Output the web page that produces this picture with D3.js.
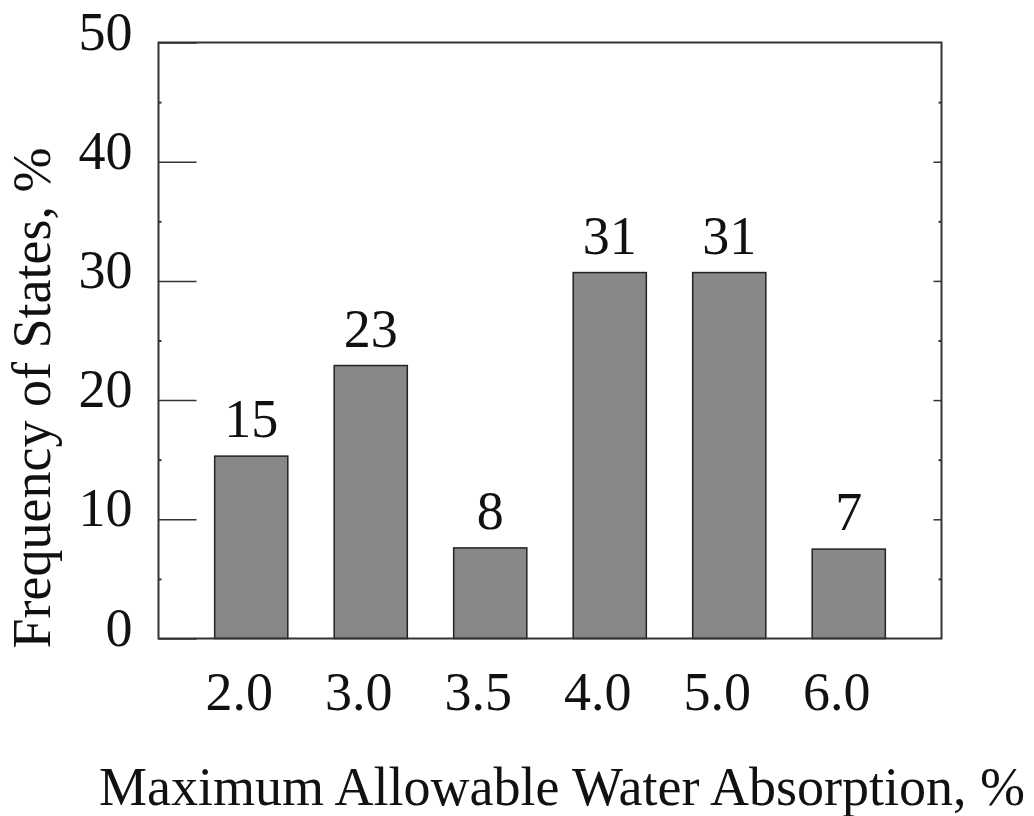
<!DOCTYPE html>
<html><head><meta charset="utf-8">
<script src="https://cdn.jsdelivr.net/npm/d3@7"></script>
<style>body{margin:0;background:#fff}text{font-family:"Liberation Serif","Times New Roman",serif;fill:#111}</style>
</head><body><svg id="c" width="1034" height="816"></svg>
<script>
const categories = ["2.0","3.0","3.5","4.0","5.0","6.0"];
const values = [15.3, 22.9, 7.6, 30.7, 30.7, 7.5];
const valueLabels = ["15","23","8","31","31","7"];
const yTicks = [0,10,20,30,40,50];
const yMinor = [5,15,25,35,45];

const svg = d3.select("#c");
const L=158.5, R=941.5, T=42.5, B=638.5;
const x = d3.scaleBand().domain(categories).range([L,R]).paddingInner(0.388).paddingOuter(0.47);
const y = d3.scaleLinear().domain([0,50]).range([B,T]);
const FS = 54;

// bars
svg.append("g").selectAll("rect").data(values).join("rect")
  .attr("x",(d,i)=>x(categories[i])).attr("width",x.bandwidth())
  .attr("y",d=>y(d)).attr("height",d=>B-y(d))
  .attr("fill","#888").attr("stroke","#222").attr("stroke-width",1.5);

// frame
svg.append("rect").attr("x",L).attr("y",T).attr("width",R-L).attr("height",B-T)
  .attr("fill","none").attr("stroke","#333").attr("stroke-width",2);

// left axis: major ticks inward
const gl = svg.append("g").attr("transform",`translate(${L},0)`)
  .call(d3.axisRight(y).tickValues(yTicks).tickSize(38).tickFormat(""));
gl.select(".domain").remove();
gl.selectAll("line").attr("stroke","#333").attr("stroke-width",1.5);
svg.append("g").attr("transform",`translate(${L},0)`)
  .call(d3.axisRight(y).tickValues(yMinor).tickSize(3).tickFormat(""))
  .call(g=>g.select(".domain").remove()).selectAll("line").attr("stroke","#333").attr("stroke-width",2);
// left labels
svg.append("g").selectAll("text").data(yTicks).join("text")
  .attr("x",L-26).attr("y",d=>y(d)+7).attr("text-anchor","end")
  .attr("font-size",FS).text(d=>d);

// right axis ticks inward
svg.append("g").attr("transform",`translate(${R},0)`)
  .call(d3.axisLeft(y).tickValues(yTicks.slice(1,5)).tickSize(8).tickFormat(""))
  .call(g=>g.select(".domain").remove()).selectAll("line").attr("stroke","#333").attr("stroke-width",1.5);
svg.append("g").attr("transform",`translate(${R},0)`)
  .call(d3.axisLeft(y).tickValues(yMinor).tickSize(3).tickFormat(""))
  .call(g=>g.select(".domain").remove()).selectAll("line").attr("stroke","#333").attr("stroke-width",2);

// x labels
svg.append("g").selectAll("text").data(categories).join("text")
  .attr("x",d=>x(d)+x.bandwidth()/2 - 12).attr("y",710).attr("text-anchor","middle")
  .attr("font-size",FS).text(d=>d);

// value labels
svg.append("g").selectAll("text").data(values).join("text")
  .attr("x",(d,i)=>x(categories[i])+x.bandwidth()/2).attr("y",d=>y(d)-19)
  .attr("text-anchor","middle").attr("font-size",FS).text((d,i)=>valueLabels[i]);

// axis titles
svg.append("text").attr("x",562).attr("y",805).attr("text-anchor","middle")
  .attr("font-size",FS).text("Maximum Allowable Water Absorption, %");
svg.append("text").attr("transform","translate(50,398) rotate(-90)").attr("text-anchor","middle")
  .attr("font-size",FS).text("Frequency of States, %");
</script></body></html>
